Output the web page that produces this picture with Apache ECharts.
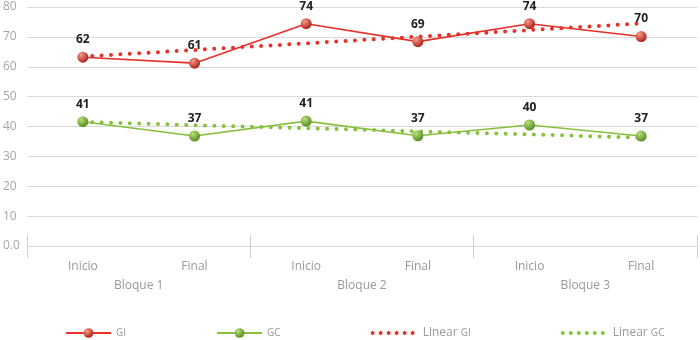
<!DOCTYPE html>
<html>
<head>
<meta charset="utf-8">
<script src="https://cdn.jsdelivr.net/npm/echarts@6/dist/echarts.min.js"></script>
<style>
  html, body { margin: 0; padding: 0; background: #fff; }
  #chart { width: 700px; height: 340px; }
</style>
</head>
<body>
<div id="chart"></div>
<script>
// categories
const categories = ['Inicio', 'Final', 'Inicio', 'Final', 'Inicio', 'Final'];
const groups = ['Bloque 1', 'Bloque 2', 'Bloque 3'];

// series values (point positions) and the labels shown above them
const valuesGI = [63.2, 61.2, 74.4, 68.4, 74.4, 70.1];
const labelsGI = ['62', '61', '74', '69', '74', '70'];
const valuesGC = [41.6, 36.8, 41.8, 36.9, 40.5, 36.8];
const labelsGC = ['41', '37', '41', '37', '40', '37'];

// trend lines, end points
const trendGI = [63.4, null, null, null, null, 74.5];
const trendGC = [41.5, null, null, null, null, 36.3];

const font = '"Open Sans", sans-serif';
const red = '#e8302a';
const green = '#86c13d';

function sphere(light, dark) {
  return {
    type: 'radial', x: 0.35, y: 0.3, r: 0.75,
    colorStops: [{ offset: 0, color: light }, { offset: 1, color: dark }]
  };
}

function mainSeries(name, values, labels, color, fill) {
  return {
    name: name,
    type: 'line',
    data: values,
    symbol: 'circle',
    symbolSize: 11,
    lineStyle: { color: color, width: 1.6 },
    itemStyle: { color: fill, borderWidth: 0 },
    label: {
      show: true,
      position: 'top',
      distance: 6,
      color: '#222',
      fontFamily: font,
      fontWeight: 'bold',
      fontSize: 12,
      formatter: (p) => labels[p.dataIndex]
    },
    z: 3
  };
}

function trendSeries(name, values, color) {
  return {
    name: name,
    type: 'line',
    data: values,
    connectNulls: true,
    symbol: 'none',
    lineStyle: { color: color, width: 4, type: [0, 9.4], cap: 'round' },
    itemStyle: { color: color },
    z: 2
  };
}

const dottedKey = { width: 4, type: [0, 8], cap: 'round' };

const chart = echarts.init(document.getElementById('chart'));
chart.setOption({
  animation: false,
  backgroundColor: '#fff',
  grid: { left: 26, right: 3, top: 7, bottom: 94 },
  legend: {
    left: 65,
    top: 326,
    padding: 0,
    itemWidth: 45,
    itemHeight: 12,
    itemGap: 90,
    textStyle: {
      color: '#999', fontFamily: font, fontSize: 12, lineHeight: 14,
      rich: { s: { color: '#999', fontFamily: font, fontSize: 10, lineHeight: 14 } }
    },
    formatter: (n) => n.replace(/G(I|C)$/, '{s|G$1}'),
    data: [
      'GI',
      'GC',
      { name: 'Linear GI', itemStyle: { opacity: 0 }, lineStyle: dottedKey },
      { name: 'Linear GC', itemStyle: { opacity: 0 }, lineStyle: dottedKey }
    ]
  },
  xAxis: [
    {
      type: 'category',
      data: categories,
      axisLine: { lineStyle: { color: '#d9d9d9' } },
      axisTick: { show: false },
      axisLabel: { color: '#999', fontFamily: font, fontSize: 12, margin: 15 }
    },
    {
      type: 'category',
      data: groups,
      position: 'bottom',
      axisLine: { show: false },
      axisTick: { show: true, length: 12, lineStyle: { color: '#d0d0d0' } },
      axisLabel: { color: '#999', fontFamily: font, fontSize: 12, margin: 34 }
    },
    {
      type: 'category',
      data: groups,
      position: 'bottom',
      axisLine: { show: false },
      axisTick: { show: true, inside: true, length: 11, lineStyle: { color: '#d0d0d0' } },
      axisLabel: { show: false }
    }
  ],
  yAxis: {
    type: 'value',
    min: 0,
    max: 80,
    interval: 10,
    axisLine: { show: false },
    axisTick: { show: false },
    splitLine: { lineStyle: { color: '#d9d9d9', width: 1 } },
    axisLabel: {
      color: '#a6a6a6', fontFamily: font, fontSize: 12,
      align: 'left', margin: 24,
      formatter: (v) => v === 0 ? '0.0' : String(v)
    }
  },
  series: [
    mainSeries('GI', valuesGI, labelsGI, red, sphere('#f59a8c', '#a81c12')),
    mainSeries('GC', valuesGC, labelsGC, green, sphere('#b8e07a', '#4f8a1c')),
    trendSeries('Linear GI', trendGI, red),
    trendSeries('Linear GC', trendGC, green)
  ]
});
</script>
</body>
</html>
